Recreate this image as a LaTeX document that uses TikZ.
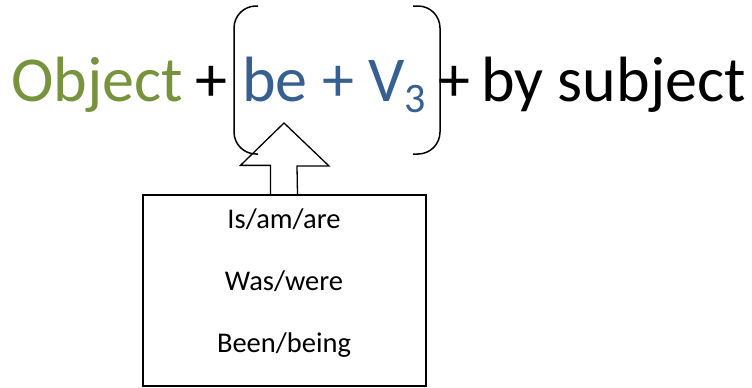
\documentclass[tikz,border=0pt]{standalone}
\usepackage{fontspec}
\setmainfont{Carlito}
\definecolor{objgreen}{HTML}{77933C}
\definecolor{beblue}{HTML}{366092}
\begin{document}
\begin{tikzpicture}[x=1pt,y=-1pt,
  big/.style={inner sep=0pt,anchor=base west,font=\fontsize{64}{76}\selectfont},
  small/.style={inner sep=0pt,anchor=base,font=\fontsize{28.5}{34}\selectfont},
  brk/.style={draw=black,line width=1.5pt,rounded corners=22pt},
  outl/.style={draw=black,line width=1.3pt}]
\useasboundingbox[fill=white] (0,0) rectangle (752,388);
% main formula
\node[big,text=objgreen] (obj) at (11,101) {Object};
\node[big] (p1) at (195,101) {+};
\node[big,text=beblue] (be) at (242,101) {be + V\raisebox{-11pt}{\fontsize{42}{50}\selectfont 3}};
\node[big] (p2) at (438,101) {+};
\node[big] (by) at (481,101) {by subject};
% brackets
\coordinate (lt) at (258,6);
\coordinate (lb) at (258,154);
\coordinate (rt) at (413,6);
\coordinate (rb) at (413,154);
\draw[brk] (lt) -- (234,6) -- (234,154) -- (lb);
\draw[brk] (rt) -- (440,6) -- (440,154) -- (rb);
% box
\node[outl,minimum width=283pt,minimum height=191pt,inner sep=0pt] (box) at (284.5,290.5) {};
\node[small] (l1) at (284,228) {Is/am/are};
\node[small] (l2) at (284,290) {Was/were};
\node[small] (l3) at (284,352) {Been/being};
% block arrow from box to bracket
\coordinate (tip) at (284,123);
\draw[outl,line join=miter] ([xshift=-14pt]box.north) -- ++(0,-29) -- ++(-30,0) -- (tip)
  -- ++(45,43) -- ++(-32,0) -- ([xshift=13pt]box.north);
\end{tikzpicture}
\end{document}
